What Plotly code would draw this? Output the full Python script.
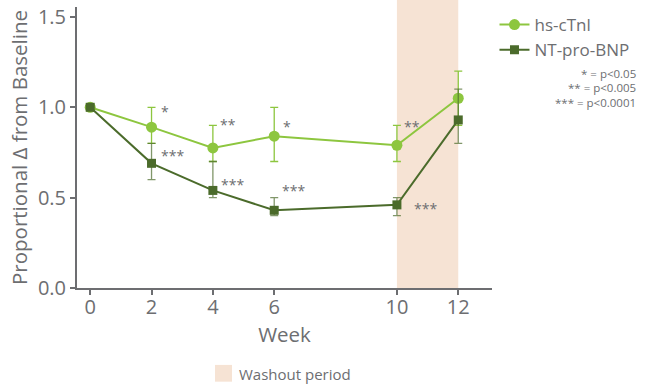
import plotly.graph_objects as go

# Study weeks and proportional change from baseline
weeks = [0, 2, 4, 6, 10, 12]

tni_mean = [1.00, 0.89, 0.775, 0.84, 0.79, 1.05]
tni_upper = [1.00, 1.00, 0.90, 1.00, 0.90, 1.20]
tni_lower = [1.00, 0.80, 0.70, 0.70, 0.70, 0.90]
tni_sig = ["", "*", "**", "*", "**", ""]

bnp_mean = [1.00, 0.69, 0.54, 0.43, 0.46, 0.93]
bnp_upper = [1.00, 0.80, 0.70, 0.50, 0.50, 1.10]
bnp_lower = [1.00, 0.60, 0.50, 0.40, 0.40, 0.80]
bnp_sig = ["", "***", "***", "***", "***", ""]

washout_weeks = [10, 12]
y_ticks = [0.0, 0.5, 1.0, 1.5]
x_ticks = [0, 2, 4, 6, 10, 12]

p_legend = ["* = p<0.05", "** = p<0.005", "*** = p<0.0001"]

LIGHT = "#8dc63f"
DARK = "#4b6b2b"
GREY = "#6d6e71"
PEACH = "#f6e3d4"
FONT = "Open Sans"


def err(mean, upper, lower):
    plus = [u - m for u, m in zip(upper, mean)]
    minus = [m - l for m, l in zip(mean, lower)]
    return plus, minus


fig = go.Figure()

# Washout period band
fig.add_vrect(x0=washout_weeks[0], x1=washout_weeks[1], y0=0, y1=1.5, yref="y",
              fillcolor=PEACH, line_width=0, layer="below")

tp, tm = err(tni_mean, tni_upper, tni_lower)
bp, bm = err(bnp_mean, bnp_upper, bnp_lower)

fig.add_trace(go.Scatter(
    x=weeks, y=tni_mean, name="hs-cTnl", mode="lines+markers",
    line=dict(color=LIGHT, width=2),
    marker=dict(symbol="circle", size=11, color=LIGHT),
    error_y=dict(type="data", symmetric=False, array=tp, arrayminus=tm,
                 color=LIGHT, thickness=1.3, width=4),
))
fig.add_trace(go.Scatter(
    x=weeks, y=bnp_mean, name="NT-pro-BNP", mode="lines+markers",
    line=dict(color=DARK, width=2),
    marker=dict(symbol="square", size=9, color=DARK),
    error_y=dict(type="data", symmetric=False, array=bp, arrayminus=bm,
                 color="rgba(75,107,43,0.7)", thickness=1.3, width=4),
))

# Significance markers next to each point (pixel offsets from the point)
tni_off = [None, (7, 16), (5, 23), (7, 10), (5, 19), None]
bnp_off = [None, (7, 8), (6, 6), (6, 20), (15, -4), None]
for sig, xs, ys, offs in ((tni_sig, weeks, tni_mean, tni_off),
                          (bnp_sig, weeks, bnp_mean, bnp_off)):
    for s, xv, yv, o in zip(sig, xs, ys, offs):
        if not s:
            continue
        fig.add_annotation(x=xv, y=yv, text=s, showarrow=False,
                           xanchor="left", yanchor="middle",
                           xshift=o[0], yshift=o[1],
                           font=dict(family=FONT, size=14, color=GREY))

# p-value key
for i, t in enumerate(p_legend):
    fig.add_annotation(xref="paper", yref="paper", x=1.352, y=1 - (70 + 15 * i - 3) / 285,
                       text=t, showarrow=False, xanchor="right", yanchor="middle",
                       font=dict(family=FONT, size=11.5, color=GREY))

# Washout period key
fig.add_shape(type="rect", xref="paper", yref="paper",
              x0=(215 - 77) / 415, x1=(232 - 77) / 415,
              y0=(288 - 366) / 285, y1=(288 - 383) / 285,
              fillcolor=PEACH, line_width=0)
fig.add_annotation(xref="paper", yref="paper", x=(237 - 77) / 415, y=(288 - 375) / 285,
                   text="Washout period", showarrow=False, xanchor="left", yanchor="middle",
                   font=dict(family=FONT, size=15, color=GREY))

axis_common = dict(
    showline=True, linecolor=GREY, linewidth=2, showgrid=False, zeroline=False,
    ticks="outside", tickcolor=GREY, ticklen=5, tickwidth=2,
    tickfont=dict(family=FONT, size=20, color=GREY),
    ticklabeloverflow="allow",
)

fig.update_layout(
    width=645, height=387,
    margin=dict(l=77, r=153, t=3, b=99),
    plot_bgcolor="white", paper_bgcolor="white",
    font=dict(family=FONT, color=GREY),
    xaxis=dict(range=[-0.43, 13.1], tickvals=x_ticks, ticklabelstandoff=-5,
               title=dict(text="Week", font=dict(family=FONT, size=20.5, color=GREY), standoff=0),
               **axis_common),
    yaxis=dict(range=[0, 1.555], tickvals=y_ticks, tickformat=".1f",
               title=dict(text="Proportional Δ from Baseline", font=dict(family=FONT, size=20.5, color=GREY), standoff=5),
               **axis_common),
    legend=dict(x=1.006, y=1.0, xanchor="left", yanchor="top",
                font=dict(family=FONT, size=17, color=GREY),
                bgcolor="rgba(0,0,0,0)", tracegroupgap=0, itemwidth=30),
    showlegend=True,
)

fig.write_html("out.html")
